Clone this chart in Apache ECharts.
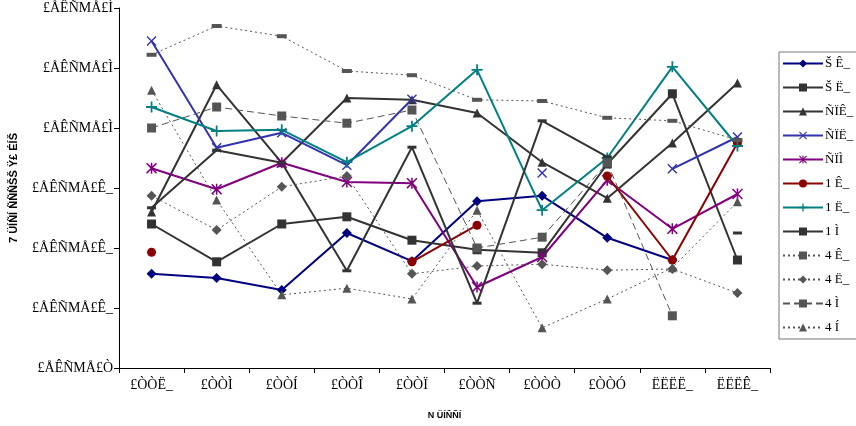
<!DOCTYPE html>
<html><head><meta charset="utf-8">
<script src="https://cdn.jsdelivr.net/npm/echarts@6/dist/echarts.min.js"></script>
<style>html,body{margin:0;padding:0;background:#fff}#c{width:856px;height:426px}</style>
</head><body><div id="c"></div>
<script>
var categories = ["£ÒÒË_", "£ÒÒÌ", "£ÒÒÍ", "£ÒÒÎ", "£ÒÒÏ", "£ÒÒÑ", "£ÒÒÒ", "£ÒÒÓ", "ËËËË_", "ËËËÊ_"];
var yTickLabels = ["£ÅÊÑMÅ£Ò", "£ÅÊÑMÅ£Ê_", "£ÅÊÑMÅ£Ê_", "£ÅÊÑMÅ£Ê_", "£ÅÊÑMÅ£Ì", "£ÅÊÑMÅ£Ì", "£ÅÊÑMÅ£Ì"];
var yTitle = "7 ÜÍÑÍ ÑÑÑŠŠ Ÿ£ ÉÍŠ";
var xTitle = "N ÜÍÑÑÍ";
var seriesNames = ["Š Ê_", "Š Ë_", "ÑÏÊ_", "ÑÏË_", "ÑÏÌ", "1 Ê_", "1 Ë_", "1 Ì", "4 Ê_", "4 Ë_", "4 Ì", "4 Í"];

var s1 = [1.57, 1.50, 1.30, 2.25, 1.78, 2.78, 2.87, 2.17, 1.80, null];
var s2 = [2.40, 1.77, 2.40, 2.52, 2.13, 1.97, 1.92, 3.40, 4.57, 1.80];
var s3 = [2.60, 4.72, 3.42, 4.50, 4.47, 4.25, 3.43, 2.83, 3.75, 4.75];
var s4 = [5.45, 3.67, 3.92, 3.38, 4.48, null, 3.25, null, 3.32, 3.85];
var s5 = [3.33, 2.98, 3.42, 3.10, 3.08, 1.35, 1.85, 3.13, 2.32, 2.90];
var s6 = [1.93, null, null, null, 1.77, 2.38, null, 3.20, 1.80, 3.75];
var s7 = [4.35, 3.95, 3.97, 3.43, 4.03, 4.97, 2.63, 3.50, 5.02, 3.70];
var s8 = [2.67, 3.63, 3.42, 1.62, 3.68, 1.08, 4.12, 3.52, null, 2.25];
var s9 = [5.22, 5.70, 5.53, 4.95, 4.88, 4.47, 4.45, 4.17, 4.12, 3.80];
var s10 = [2.87, 2.30, 3.02, 3.20, 1.57, 1.70, 1.73, 1.63, 1.65, 1.25];
var s11 = [4.00, 4.35, 4.20, 4.08, 4.30, 2.00, 2.18, 3.42, 0.87, null];
var s12 = [4.63, 2.80, 1.22, 1.33, 1.15, 2.63, 0.67, 1.15, 1.67, 2.77];

var X_PATH = 'path://M0,1 L1,0 L5,4 L9,0 L10,1 L6,5 L10,9 L9,10 L5,6 L1,10 L0,9 L4,5 Z';
var PLUS_PATH = 'path://M4.2,0 H5.8 V4.2 H10 V5.8 H5.8 V10 H4.2 V5.8 H0 V4.2 H4.2 Z';
var AST_PATH = 'path://M0,1 L1,0 L5,4 L9,0 L10,1 L6,5 L10,9 L9,10 L5,6 L1,10 L0,9 L4,5 Z M4.3,0 L5.7,0 L5.7,10 L4.3,10 Z';

function mk(name, data, color, symbol, size, width, type) {
  return {
    name: name, type: 'line', data: data, symbol: symbol, symbolSize: size,
    connectNulls: false, showAllSymbol: true, animation: false,
    lineStyle: { color: color, width: width, type: type || 'solid' },
    itemStyle: { color: color }
  };
}
var dark = '#333333', grayd = '#555555';
var series = [
  mk(seriesNames[0], s1, '#000080', 'diamond', 10, 2),
  mk(seriesNames[1], s2, dark, 'rect', 9, 2),
  mk(seriesNames[2], s3, dark, 'triangle', 9, 2),
  mk(seriesNames[3], s4, '#3333B0', X_PATH, 10, 2),
  mk(seriesNames[4], s5, '#800080', AST_PATH, 11, 2),
  mk(seriesNames[5], s6, '#8B0000', 'circle', 9, 2),
  mk(seriesNames[6], s7, '#008080', PLUS_PATH, 11, 2),
  mk(seriesNames[7], s8, dark, 'rect', [9, 3], 2),
  mk(seriesNames[8], s9, grayd, 'rect', [10, 4], 1, [2, 3]),
  mk(seriesNames[9], s10, grayd, 'diamond', 10, 1, [2, 3]),
  mk(seriesNames[10], s11, grayd, 'rect', 9, 1, [7, 4]),
  mk(seriesNames[11], s12, grayd, 'triangle', 9, 1, [2, 3])
];

var chart = echarts.init(document.getElementById('c'), null, { renderer: 'canvas' });
chart.setOption({
  backgroundColor: '#fff',
  animation: false,
  grid: { left: 114, right: 86, top: 8, bottom: 58 },
  legend: {
    orient: 'vertical', left: 779, top: 52,
    itemWidth: 40, itemHeight: 10, itemGap: 11,
    padding: [5, 4, 5, 3],
    borderColor: '#777', borderWidth: 1,
    textStyle: { fontFamily: 'Liberation Serif', fontSize: 13, lineHeight: 12, color: '#000', padding: [0, 0, 0, -3] },
    data: seriesNames
  },
  xAxis: {
    type: 'category', data: categories, boundaryGap: true,
    name: xTitle, nameLocation: 'middle', nameGap: 43,
    nameTextStyle: { fontFamily: 'Liberation Sans Narrow, Liberation Sans', fontSize: 9, color: '#000', fontWeight: 'bold' },
    axisLine: { lineStyle: { color: '#000', width: 1 } },
    axisTick: { show: true, alignWithLabel: false, length: 5, lineStyle: { color: '#000' } },
    axisLabel: { fontFamily: 'Liberation Serif', fontSize: 14, color: '#000', margin: 10, interval: 0 },
    splitLine: { show: false }
  },
  yAxis: {
    type: 'value', min: 0, max: 6, interval: 1,
    name: yTitle, nameLocation: 'middle', nameGap: 100, nameRotate: 90,
    nameTextStyle: { fontFamily: 'Liberation Sans Narrow, Liberation Sans', fontSize: 11, color: '#000', fontWeight: 'bold' },
    axisLine: { show: true, lineStyle: { color: '#000', width: 1 } },
    axisTick: { show: true, length: 5, lineStyle: { color: '#000' } },
    axisLabel: { fontFamily: 'Liberation Serif', fontSize: 14, color: '#000', margin: 6,
      formatter: function (v) { return yTickLabels[Math.round(v)] || ''; } },
    splitLine: { show: false }
  },
  series: series
});
</script>
</body></html>
